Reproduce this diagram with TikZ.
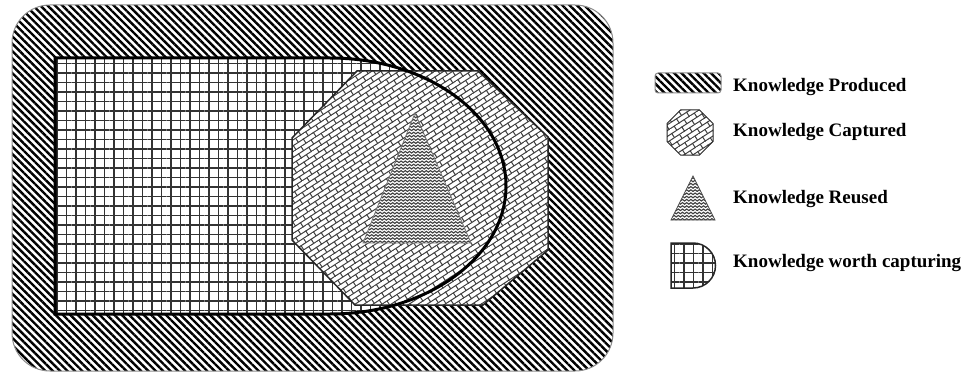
\documentclass[tikz,border=0pt]{standalone}
\usepackage{fontspec}
\setmainfont{Liberation Serif}
\usetikzlibrary{patterns.meta}

% slanted bricks for the captured area
\pgfdeclarepattern{
  name=slantbricks,
  type=uncolored,
  bottom left={\pgfpoint{-.5pt}{-.5pt}},
  top right={\pgfpoint{12.5pt}{10.3pt}},
  tile size={\pgfpoint{12pt}{9.8pt}},
  tile transformation={\pgftransformrotate{33}},
  code={
    \pgfsetlinewidth{1pt}
    \pgfpathmoveto{\pgfpoint{-.5pt}{0pt}}\pgfpathlineto{\pgfpoint{12.5pt}{0pt}}
    \pgfpathmoveto{\pgfpoint{-.5pt}{4.9pt}}\pgfpathlineto{\pgfpoint{12.5pt}{4.9pt}}
    \pgfpathmoveto{\pgfpoint{0pt}{0pt}}\pgfpathlineto{\pgfpoint{0pt}{4.9pt}}
    \pgfpathmoveto{\pgfpoint{6pt}{4.9pt}}\pgfpathlineto{\pgfpoint{6pt}{9.8pt}}
    \pgfusepath{stroke}
  }
}
% fine zigzag for the reused area
\pgfdeclarepattern{
  name=zigzagfine,
  type=uncolored,
  bottom left={\pgfpoint{-.5pt}{-.5pt}},
  top right={\pgfpoint{4.7pt}{2.3pt}},
  tile size={\pgfpoint{4.2pt}{3.2pt}},
  code={
    \pgfsetlinewidth{1.1pt}
    \pgfpathmoveto{\pgfpoint{-.2pt}{-.15pt}}
    \pgfpathlineto{\pgfpoint{2.1pt}{1.6pt}}
    \pgfpathlineto{\pgfpoint{4.4pt}{-.15pt}}
    \pgfusepath{stroke}
  }
}

\tikzset{
  area-produced/.style={draw=black!45,line width=1pt,
    pattern={Lines[angle=-45,distance=5.2pt,line width=2.4pt]}},
  area-worth/.style={preaction={fill=white},pattern color=black!80,
    pattern={Hatch[angle=0,distance=9.5pt,line width=1.3pt]}},
  area-captured/.style={preaction={fill=white},draw=black!85,line width=1.5pt,
    pattern=slantbricks,pattern color=black!75},
  area-reused/.style={preaction={fill=white},draw=black!55,line width=0.8pt,
    pattern=zigzagfine,pattern color=black!75},
  outline-worth/.style={draw=black,line width=3pt},
  legend-text/.style={anchor=base west,inner sep=0pt,
    font=\fontsize{19}{22}\selectfont\bfseries},
}

\begin{document}
\begin{tikzpicture}[x=1pt,y=-1pt]
  \useasboundingbox (0,0) rectangle (963,377);
  % knowledge produced
  \draw[area-produced,rounded corners=38pt] (12,5) rectangle (613,371);
  % knowledge worth capturing
  \path[area-worth] (55,58) -- (330,58)
    arc[start angle=-90,end angle=90,x radius=176,y radius=128]
    -- (55,314) -- cycle;
  % knowledge captured
  \draw[area-captured] (357,71) -- (478,71) -- (548,137) -- (548,250)
    -- (483,305) -- (355,305) -- (292,240) -- (292,138) -- cycle;
  \draw[outline-worth] (55,58) -- (330,58)
    arc[start angle=-90,end angle=90,x radius=176,y radius=128]
    -- (55,314) -- cycle;
  % knowledge reused
  \draw[area-reused] (415,113) -- (471,243) -- (363,243) -- cycle;

  % legend
  \draw[area-produced,rounded corners=3pt] (655,73) rectangle (721,93);
  \node[legend-text] (lbl-produced) at (733,92) {Knowledge Produced};
  \draw[area-captured,line width=1pt] (680.5,110) -- (699.5,110) -- (713,123.5)
    -- (713,141.5) -- (699.5,155) -- (680.5,155) -- (667,141.5)
    -- (667,123.5) -- cycle;
  \node[legend-text] (lbl-captured) at (733,136) {Knowledge Captured};
  \draw[area-reused,draw=black!70] (693,176) -- (715,220) -- (671,220) -- cycle;
  \node[legend-text] (lbl-reused) at (733,203) {Knowledge Reused};
  \draw[area-worth,draw=black!85,line width=1.5pt] (671,243) -- (693,243)
    arc[start angle=-90,end angle=90,radius=22.5] -- (671,288) -- cycle;
  \node[legend-text] (lbl-worth) at (733,267) {Knowledge worth capturing};
\end{tikzpicture}
\end{document}
